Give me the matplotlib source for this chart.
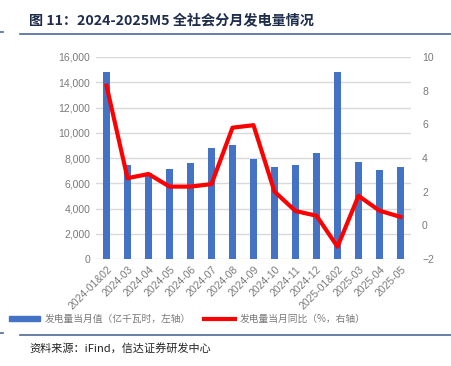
import numpy as np
import matplotlib
matplotlib.use("Agg")
import matplotlib.pyplot as plt
from matplotlib.lines import Line2D
from matplotlib.patches import Patch

plt.rcParams['font.family'] = ['Liberation Sans', 'Noto Sans CJK SC', 'DejaVu Sans']
cjk = ['Noto Sans CJK SC', 'DejaVu Sans']

# months
months = ['2024-01&02', '2024-03', '2024-04', '2024-05', '2024-06', '2024-07',
          '2024-08', '2024-09', '2024-10', '2024-11', '2024-12', '2025-01&02',
          '2025-03', '2025-04', '2025-05']
# monthly generation, 100 million kWh (left axis)
generation = [14810, 7420, 6790, 7130, 7600, 8770, 9000, 7940, 7260, 7450,
              8400, 14840, 7710, 7050, 7310]
# YoY growth, % (right axis)
yoy = [8.3, 2.8, 3.05, 2.3, 2.3, 2.45, 5.8, 5.95, 2.0, 0.85, 0.57, -1.27,
       1.75, 0.87, 0.5]

gray = '#7a7a7a'
grid_c = '#d9d9d9'
blue = '#4472c4'

fig = plt.figure(figsize=(4.52, 3.66), dpi=100)
ax = fig.add_axes([96 / 452, 1 - 259 / 366, 315 / 452, 202 / 366])
x = np.arange(len(months))
ax.bar(x, generation, width=0.33, color=blue, zorder=2)
ax.set_xlim(-0.5, len(months) - 0.5)
ax.set_ylim(0, 16000)
ax.set_yticks(np.arange(0, 16001, 2000))
ax.set_yticklabels(['{:,}'.format(v) for v in range(0, 16001, 2000)])
ax.grid(axis='y', color=grid_c, linewidth=1, zorder=0)
ax.set_xticks(x)
ax.set_xticklabels(months, rotation=45, ha='right', rotation_mode='anchor')
ax.tick_params(axis='both', length=0, labelsize=7.5, colors=gray, pad=4)
for s in ax.spines.values():
    s.set_visible(False)

ax2 = ax.twinx()
ax2.plot(x, yoy, color='#ff0000', linewidth=3, zorder=3)
ax2.set_ylim(-2, 10)
ax2.set_yticks(np.arange(-2, 11, 2))
ax2.tick_params(axis='y', length=0, labelsize=7.5, colors=gray, pad=8)
for s in ax2.spines.values():
    s.set_visible(False)

# title and rules
fig.text(29 / 452, 1 - 20 / 366, '图 11：2024-2025M5 全社会分月发电量情况',
         fontsize=10.2, fontweight='bold', color='#1f2d4d', va='center', family=cjk)
fig.add_artist(Line2D([20 / 452, 1], [1 - 34 / 366] * 2, color='#4a6a9a', linewidth=1.2))
fig.add_artist(Line2D([0, 3 / 452], [1 - 32 / 366] * 2, color='#4a6a9a', linewidth=1.2))
fig.add_artist(Line2D([20 / 452, 1], [1 - 335 / 366] * 2, color='#4a6a9a', linewidth=1.2))
fig.add_artist(Line2D([0, 3 / 452], [1 - 333 / 366] * 2, color='#4a6a9a', linewidth=1.2))

# legend
handles = [Patch(color=blue), Line2D([0], [0], color='#ff0000', linewidth=3)]
labels = ['发电量当月值（亿千瓦时，左轴）', '发电量当月同比（%，右轴）']
fig.legend(handles, labels, loc='center left', bbox_to_anchor=(0, 1 - 319 / 366),
           ncol=2, frameon=False, prop={'family': cjk, 'size': 7}, labelcolor=gray,
           handlelength=3.2, handleheight=0.5, columnspacing=1.3, handletextpad=0.5)

fig.text(29 / 452, 1 - 348 / 366, '资料来源：iFind，信达证券研发中心',
         fontsize=8, style='italic', color='#222222', va='center', family=cjk)

fig.savefig('out.png', dpi=100)
